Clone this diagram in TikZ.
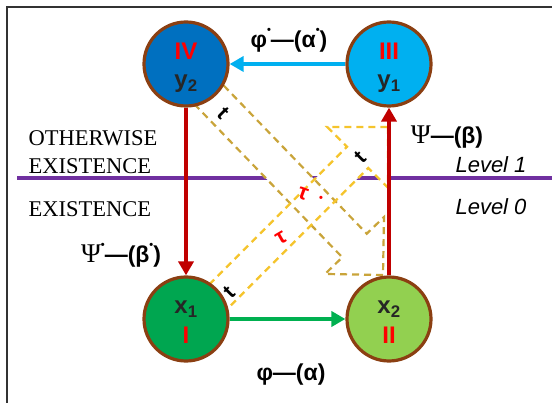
\documentclass[tikz,border=0pt]{standalone}
\usepackage{fontspec}
\setmainfont{Liberation Serif}
\setsansfont{Liberation Sans}
\usepackage{xcolor}
\usepackage{tikz}
\usetikzlibrary{arrows.meta,positioning,calc}
\definecolor{darkblue}{HTML}{0070C0}
\definecolor{skyblue}{HTML}{00B0F0}
\definecolor{leafgreen}{HTML}{00A650}
\definecolor{limegreen}{HTML}{92D050}
\definecolor{rimbrown}{HTML}{8B3F12}
\definecolor{arrred}{HTML}{C00000}
\definecolor{arrgreen}{HTML}{00B050}
\definecolor{levelpurple}{HTML}{7030A0}
\definecolor{olivedash}{HTML}{C9A43A}
\definecolor{yellowdash}{HTML}{F5C42C}
\newcommand\sdot{\raisebox{0.6em}{\fontsize{11}{11}\selectfont\textbullet}}

\begin{document}
\begin{tikzpicture}[x=1pt, y=-1pt,
  state/.style={circle, draw=rimbrown, line width=3.2pt, minimum size=84pt, inner sep=0pt},
  numlbl/.style={anchor=base, text=red, font=\sffamily\bfseries\fontsize{24}{24}\selectfont},
  varlbl/.style={anchor=base, text=black!85, font=\sffamily\bfseries\fontsize{24}{24}\selectfont},
  maplbl/.style={font=\sffamily\bfseries\fontsize{23}{23}\selectfont},
  sidelbl/.style={anchor=base west, font=\rmfamily\fontsize{22.5}{22.5}\selectfont},
  lvllbl/.style={anchor=base west, font=\sffamily\itshape\fontsize{22}{22}\selectfont},
  arr/.style={-{Triangle[length=14pt, width=15pt]}, line width=4pt},
  band/.style={dash pattern=on 7pt off 5pt, line width=2.2pt},
  tmark/.style={inner sep=1pt, font=\sffamily\bfseries\fontsize{21}{21}\selectfont},
  taulbl/.style={inner sep=0pt, text=red, font=\sffamily\bfseries\fontsize{22}{22}\selectfont}
]
\useasboundingbox (0,0) rectangle (552,403);
% --- frame and level line
\draw[black!80, line width=1.6pt] (552,7) -- (7,7) -- (7,403);
\coordinate (lvlL) at (17,178);
\coordinate (lvlR) at (552,178);
\draw[levelpurple, line width=4pt] (lvlL) -- (lvlR);

% --- dashed band arrows: white bodies first, outlines on top
\foreach \tip/\rot/\hd/\bw/\len in {{(383,275)}/-46/41/17/260, {(388,127)}/45/43/15/255}
  \fill[white, shift={\tip}, rotate=\rot] (0,0) -- (-\hd,\hd) -- (-\hd,\bw) -- (-\len,\bw)
    -- (-\len,-\bw) -- (-\hd,-\bw) -- (-\hd,-\hd) -- cycle;
\foreach \tip/\rot/\hd/\bw/\len/\col in {{(383,275)}/-46/41/17/260/olivedash, {(388,127)}/45/43/15/255/yellowdash}
  \draw[band, \col, shift={\tip}, rotate=\rot] (0,0) -- (-\hd,\hd) -- (-\hd,\bw) -- (-\len,\bw)
    -- (-\len,-\bw) -- (-\hd,-\bw) -- (-\hd,-\hd) -- cycle;

% --- states
\node[state, fill=darkblue] (n4) at (186,64) {};
\node[state, fill=skyblue] (n3) at (389,64) {};
\node[state, fill=leafgreen] (n1) at (186,319) {};
\node[state, fill=limegreen] (n2) at (389,319) {};
\node[numlbl] (r4) at ([yshift=4pt]n4.center) {IV};
\node[varlbl] (v4) at ([yshift=-24pt]n4.center) {y\textsubscript{2}};
\node[numlbl] (r3) at ([yshift=4pt]n3.center) {III};
\node[varlbl] (v3) at ([yshift=-24pt]n3.center) {y\textsubscript{1}};
\node[varlbl] (v1) at ([yshift=5pt]n1.center) {x\textsubscript{1}};
\node[numlbl] (r1) at ([yshift=-25pt]n1.center) {I};
\node[varlbl] (v2) at ([yshift=5pt]n2.center) {x\textsubscript{2}};
\node[numlbl] (r2) at ([yshift=-25pt]n2.center) {II};

% --- mappings
\draw[arr, skyblue] (n3) -- (n4);
\draw[arr, arrred] (n4) -- (n1);
\draw[arr, arrred] (n2) -- (n3);
\draw[arr, arrgreen] (n1) -- (n2);
\node[maplbl] (phis) at (289,40) {φ\sdot—(α\sdot)};
\node[maplbl] (psi) at (447,137) {{\rmfamily\mdseries\fontsize{27}{27}\selectfont Ψ}—(β)};
\node[maplbl] (psis) at (121,255) {{\rmfamily\mdseries\fontsize{27}{27}\selectfont Ψ}\sdot—(β\sdot)};
\node[maplbl] (phi) at (291,375) {φ—(α)};

% --- levels
\node[sidelbl] (oth) at (25,146) {OTHERWISE};
\node[sidelbl] (ex1) at (25,174) {EXISTENCE};
\node[sidelbl] (ex0) at (25,217) {EXISTENCE};
\node[lvllbl] (lv1) at (452,173) {Level 1};
\node[lvllbl] (lv0) at (452,215) {Level 0};

% --- marks on the bands
\node[tmark, rotate=-45] (t1) at (223,113) {t};
\node[tmark, rotate=45] (t2) at (229,292) {t};
\node[tmark, rotate=45] (t3) at (360,157) {t};
\node[taulbl, rotate=-20] (tau1) at (303,194) {τ};
\node[taulbl, font=\sffamily\bfseries\fontsize{11}{11}\selectfont] (tau1s) at (321,199) {•};
\node[taulbl, rotate=30] (tau0) at (281,238) {τ};
\end{tikzpicture}
\end{document}
